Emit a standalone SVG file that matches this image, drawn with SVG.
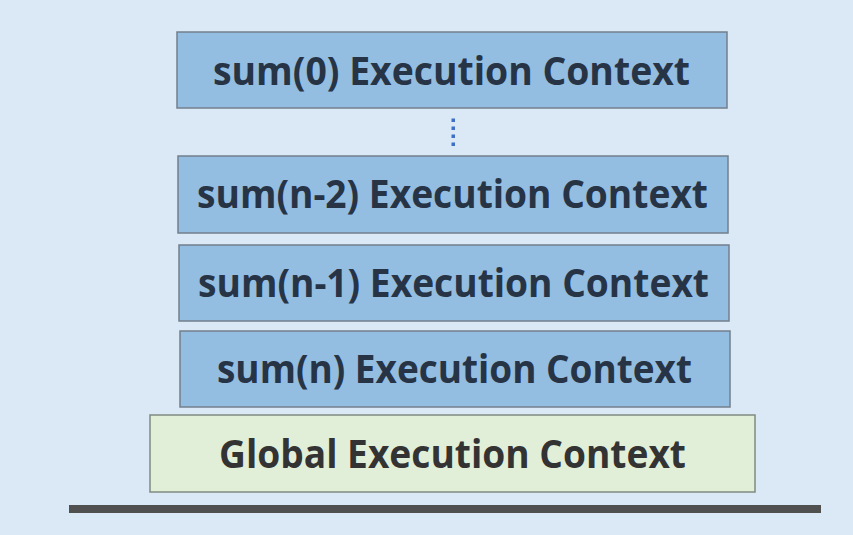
<svg xmlns="http://www.w3.org/2000/svg" width="853" height="535" viewBox="0 0 853 535">
<style>
.box{fill:#94bde2;stroke:#737f8c;stroke-width:1.5}
.gbox{fill:#e2efd8;stroke:#7f8a80;stroke-width:1.5}
.t{font-family:"Open Sans","Liberation Sans",sans-serif;font-weight:700;font-size:39px;fill:#263445}
.gt{fill:#333333}
.dot{fill:#3f6fc4}
</style>
<rect width="853" height="535" fill="#dbe8f5"/>
<g id="sum0">
<rect class="box" x="177" y="32" width="550" height="76"/>
<text class="t" x="213" y="85" textLength="477" lengthAdjust="spacingAndGlyphs">sum(0) Execution Context</text>
</g>
<g id="connectors">
<rect class="dot" x="451.5" y="118.5" width="3.5" height="3.5"/>
<rect class="dot" x="451.5" y="126.5" width="3.5" height="3.5"/>
<rect class="dot" x="451.5" y="134.5" width="3.5" height="3.5"/>
<rect class="dot" x="451.5" y="142.5" width="3.5" height="3.5"/>
</g>
<g id="sumn2">
<rect class="box" x="178" y="156" width="550" height="77"/>
<text class="t" x="197" y="208" textLength="511" lengthAdjust="spacingAndGlyphs">sum(n-2) Execution Context</text>
</g>
<g id="sumn1">
<rect class="box" x="179" y="245" width="550" height="76"/>
<text class="t" x="198" y="297" textLength="511" lengthAdjust="spacingAndGlyphs">sum(n-1) Execution Context</text>
</g>
<g id="sumn">
<rect class="box" x="180" y="331" width="550" height="76"/>
<text class="t" x="217" y="383" textLength="475" lengthAdjust="spacingAndGlyphs">sum(n) Execution Context</text>
</g>
<g id="global">
<rect class="gbox" x="150" y="415" width="605" height="77"/>
<text class="t gt" x="219" y="468" textLength="467" lengthAdjust="spacingAndGlyphs">Global Execution Context</text>
</g>
<g id="base">
<rect x="69" y="505" width="752" height="8" fill="#505050"/>
</g>
</svg>
